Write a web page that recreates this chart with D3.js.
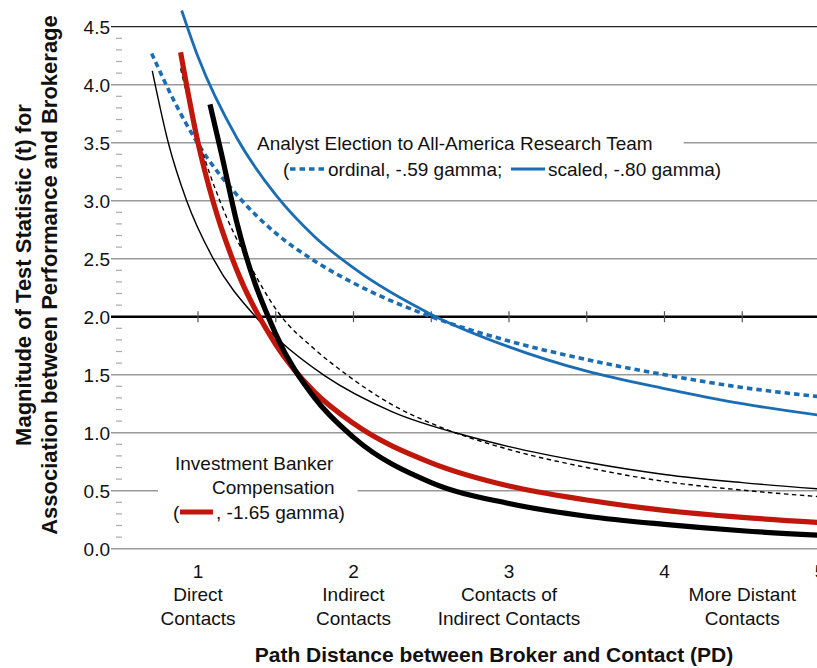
<!DOCTYPE html>
<html><head><meta charset="utf-8">
<script src="https://cdn.jsdelivr.net/npm/d3@7"></script>
<style>
html,body{margin:0;padding:0;background:#fff;}
svg text{font-family:"Liberation Sans",Arial,sans-serif;fill:#111;}
</style></head>
<body><svg id="c" width="817" height="668"></svg>
<script>
// ---- data ----
const yTicks = [0,0.5,1,1.5,2,2.5,3,3.5,4,4.5];
const yTickLabels = ["0.0","0.5","1.0","1.5","2.0","2.5","3.0","3.5","4.0","4.5"];
const xTicks = [1,2,3,4,5];
const xTickLabels = ["1","2","3","4","5"];
const catPos = [1,2,3,4.5];
const catLines = [["Direct","Contacts"],["Indirect","Contacts"],["Contacts of","Indirect Contacts"],["More Distant","Contacts"]];

// Analyst election, ordinal (blue dotted)
const ordX = [0.702,0.85,1,1.25,1.5,1.75,2,2.5,3,3.5,4,4.5,5];
const ordT = [4.27,3.85,3.49,3.05,2.72,2.48,2.29,2.00,1.79,1.63,1.50,1.39,1.31];
// Analyst election, scaled (blue solid)
const scaX = [0.895,1,1.25,1.5,1.75,2,2.5,3,3.5,4,4.5,5];
const scaT = [4.64,4.24,3.54,3.05,2.69,2.42,2.02,1.74,1.53,1.38,1.25,1.15];
// thin black solid
const thinX = [0.706,0.809,0.927,1.098,1.37,1.527,1.816,2.25,2.75,3,3.5,4,4.5,5];
const thinT = [4.12,3.5,3.0,2.5,2.0,1.79,1.49,1.18,0.965,0.88,0.745,0.64,0.57,0.515];
// thin black dashed
const dashX = [0.888,1,1.146,1.313,1.52,1.75,1.956,2.25,2.556,3,3.5,4,4.5,5];
const dashT = [4.14,3.55,2.98,2.5,2.03,1.72,1.5,1.24,1.05,0.855,0.70,0.58,0.505,0.448];
// Investment banker compensation (red)
const redX = [0.888,1,1.1,1.25,1.5,1.75,2,2.5,3,3.5,4,4.5,5];
const redT = [4.28,3.50,2.98,2.40,1.76,1.35,1.08,0.74,0.54,0.42,0.33,0.27,0.225];
// thick black
const blkX = [1.077,1.15,1.25,1.5,1.75,2,2.5,3,3.5,4,4.5,5];
const blkT = [3.83,3.41,2.81,1.85,1.30,0.96,0.57,0.39,0.28,0.21,0.155,0.115];

const svg = d3.select("#c");
const x = d3.scaleLinear().domain([1,5]).range([198,820]);
const y = d3.scaleLinear().domain([0,4.5]).range([548.7,26.7]);
const RED="#c0170d", BLUE="#1b6db3";

// gridlines
svg.append("g").selectAll("line").data(yTicks.filter(v=>v!==2)).join("line")
  .attr("x1",111).attr("x2",817).attr("y1",d=>y(d)).attr("y2",d=>y(d))
  .attr("stroke",d=>d===4.5?"#222":"#999").attr("stroke-width",d=>d===4.5?1.2:1.6);
// minor ticks
const minor = d3.range(1,45).map(i=>i/10).filter(v=>Math.abs(v*2-Math.round(v*2))>1e-6);
svg.append("g").selectAll("line").data(minor).join("line")
  .attr("x1",116).attr("x2",122).attr("y1",d=>y(d)).attr("y2",d=>y(d))
  .attr("stroke","#aaa").attr("stroke-width",1.2);

// y tick labels
svg.append("g").selectAll("text").data(yTicks).join("text")
  .attr("x",110).attr("y",d=>y(d)+7).attr("text-anchor","end")
  .attr("font-size",19).text((d,i)=>yTickLabels[i]);

// knockouts for annotation text on gridlines
const knock = svg.append("g");

// threshold line 2.0
svg.append("line").attr("x1",111).attr("x2",817).attr("y1",y(2)).attr("y2",y(2))
  .attr("stroke","#000").attr("stroke-width",2.6);
svg.append("g").selectAll("line").data(d3.range(1,5.01,0.5)).join("line")
  .attr("x1",d=>x(d)).attr("x2",d=>x(d)).attr("y1",y(2)-5.5).attr("y2",y(2)+5.5)
  .attr("stroke","#555").attr("stroke-width",1.2);

// curves
const line = d3.line().x(d=>x(d[0])).y(d=>y(d[1])).curve(d3.curveMonotoneX);
const zip = (a,b)=>a.map((v,i)=>[v,b[i]]);
const series = [
  {xs:thinX, ts:thinT, c:"#000", w:1.4, dash:null},
  {xs:ordX, ts:ordT, c:BLUE, w:3.6, dash:"5.5,4"},
  {xs:scaX, ts:scaT, c:BLUE, w:2.8, dash:null},
  {xs:dashX, ts:dashT, c:"#000", w:1.4, dash:"4.5,3.5"},
  {xs:redX, ts:redT, c:RED, w:5.2, dash:null},
  {xs:blkX, ts:blkT, c:"#000", w:5.2, dash:null}
];
svg.append("g").selectAll("path").data(series).join("path")
  .attr("d",s=>line(zip(s.xs,s.ts))).attr("fill","none")
  .attr("stroke",s=>s.c).attr("stroke-width",s=>s.w)
  .attr("stroke-dasharray",s=>s.dash);

// x tick labels and category labels
svg.append("g").selectAll("text").data(xTicks).join("text")
  .attr("x",d=>x(d)).attr("y",578).attr("text-anchor","middle")
  .attr("font-size",19).text((d,i)=>xTickLabels[i]);
const cg = svg.append("g").selectAll("text").data(catPos).join("text")
  .attr("text-anchor","middle").attr("font-size",19);
cg.selectAll("tspan").data((d,i)=>catLines[i].map(t=>({t,p:d}))).join("tspan")
  .attr("x",d=>x(d.p)).attr("y",(d,j)=>601+j*23.5).text(d=>d.t);

// axis titles
svg.append("text").attr("x",494).attr("y",662).attr("text-anchor","middle")
  .attr("font-size",21).attr("font-weight","bold")
  .text("Path Distance between Broker and Contact (PD)");
const yt = svg.append("text").attr("transform","translate(31,275) rotate(-90)")
  .attr("text-anchor","middle").attr("font-size",22).attr("font-weight","bold");
yt.append("tspan").attr("x",0).attr("y",0).text("Magnitude of Test Statistic (t) for");
yt.append("tspan").attr("x",0).attr("y",26).text("Association between Performance and Brokerage");

// annotation: analyst
const a1 = svg.append("text").attr("x",257).attr("y",150).attr("font-size",19)
  .text("Analyst Election to All-America Research Team");
svg.append("text").attr("x",283).attr("y",176).attr("font-size",19).text("(");
svg.append("line").attr("x1",290).attr("x2",325).attr("y1",169).attr("y2",169)
  .attr("stroke",BLUE).attr("stroke-width",3.6).attr("stroke-dasharray","5.5,4");
svg.append("text").attr("x",328).attr("y",176).attr("font-size",19).text("ordinal, -.59 gamma;");
svg.append("line").attr("x1",511).attr("x2",545).attr("y1",169).attr("y2",169)
  .attr("stroke",BLUE).attr("stroke-width",2.8);
svg.append("text").attr("x",548).attr("y",176).attr("font-size",19).text("scaled, -.80 gamma)");

// annotation: investment banker
svg.append("text").attr("x",175).attr("y",470).attr("font-size",19).text("Investment Banker");
const a2 = svg.append("text").attr("x",212).attr("y",494).attr("font-size",19).text("Compensation");
svg.append("text").attr("x",173).attr("y",519).attr("font-size",19).text("(");
svg.append("line").attr("x1",180).attr("x2",213).attr("y1",512).attr("y2",512)
  .attr("stroke",RED).attr("stroke-width",5.2);
svg.append("text").attr("x",216).attr("y",519).attr("font-size",19).text(", -1.65 gamma)");

// knockouts computed from text boxes
[[a1,27,31],[a2,54,23]].forEach(([t,pl,pr])=>{
  const b = t.node().getBBox();
  knock.append("rect").attr("x",b.x-pl).attr("y",b.y).attr("width",b.width+pl+pr)
    .attr("height",b.height).attr("fill","#fff");
});
</script></body></html>
